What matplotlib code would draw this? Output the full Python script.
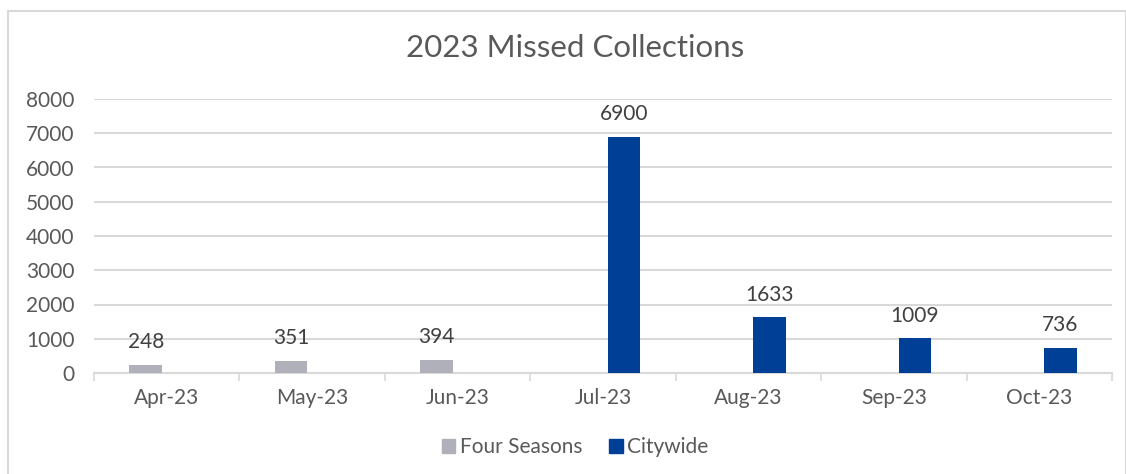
import matplotlib
matplotlib.use("Agg")
import matplotlib.pyplot as plt
from matplotlib.patches import Rectangle, Patch
import numpy as np

months = ["Apr-23", "May-23", "Jun-23", "Jul-23", "Aug-23", "Sep-23", "Oct-23"]
four_seasons = [248, 351, 394, None, None, None, None]
citywide = [None, None, None, 6900, 1633, 1009, 736]
yticks = [0, 1000, 2000, 3000, 4000, 5000, 6000, 7000, 8000]

plt.rcParams['font.family'] = ['Lato', 'DejaVu Sans']
txt = '#595959'
gray = '#B0B0BB'
blue = '#003F96'

fig = plt.figure(figsize=(11.26, 4.74), dpi=100)
fig.patches.append(Rectangle((8/1126, -0.01), (1125.5-8)/1126, 1 - 10.7/474 + 0.01,
                             transform=fig.transFigure, fill=False,
                             edgecolor='#D9D9D9', linewidth=1.5))
ax = fig.add_axes([94/1126, 1 - 373/474, (1112 - 94)/1126, (373 - 99)/474])

x = np.arange(len(months))
w = 0.224
off = 0.144
for i in range(len(months)):
    if four_seasons[i] is not None:
        ax.bar(x[i] - off, four_seasons[i], w, color=gray, zorder=3)
        ax.annotate(str(four_seasons[i]), (x[i] - off, four_seasons[i]),
                    xytext=(0, 9), textcoords='offset points',
                    ha='center', va='bottom', fontsize=15, color='#404040')
    if citywide[i] is not None:
        ax.bar(x[i] + off, citywide[i], w, color=blue, zorder=3)
        ax.annotate(str(citywide[i]), (x[i] + off, citywide[i]),
                    xytext=(0, 9), textcoords='offset points',
                    ha='center', va='bottom', fontsize=15, color='#404040')

ax.set_xlim(-0.5, len(months) - 0.5)
ax.set_ylim(0, 8000)
ax.set_yticks(yticks)
ax.set_yticklabels([str(t) for t in yticks], fontsize=15, color=txt)
ax.set_xticks(x)
ax.set_xticklabels(months, fontsize=15, color=txt)
ax.tick_params(axis='y', length=0, pad=14)
ax.tick_params(axis='x', length=0, pad=11)
ax.set_xticks(np.arange(-0.5, len(months) + 0.5, 1), minor=True)
ax.tick_params(axis='x', which='minor', length=6, color='#D9D9D9', width=1.2)
ax.grid(axis='y', color='#D9D9D9', linewidth=1.5, zorder=0)
for s in ['top', 'right', 'left']:
    ax.spines[s].set_visible(False)
ax.spines['bottom'].set_color('#D9D9D9')
ax.spines['bottom'].set_linewidth(1.5)

fig.text(575/1126, 1 - 48/474, "2023 Missed Collections", ha='center', va='center',
         fontsize=22.5, color=txt)

handles = [Patch(color=gray, label='Four Seasons'), Patch(color=blue, label='Citywide')]
fig.legend(handles=handles, loc='center', bbox_to_anchor=(575/1126, 1 - 447/474),
           ncol=2, frameon=False, fontsize=15, labelcolor=txt,
           handlelength=0.65, handleheight=0.65, handletextpad=0.2, columnspacing=1.3)

fig.savefig("out.png", dpi=100)
